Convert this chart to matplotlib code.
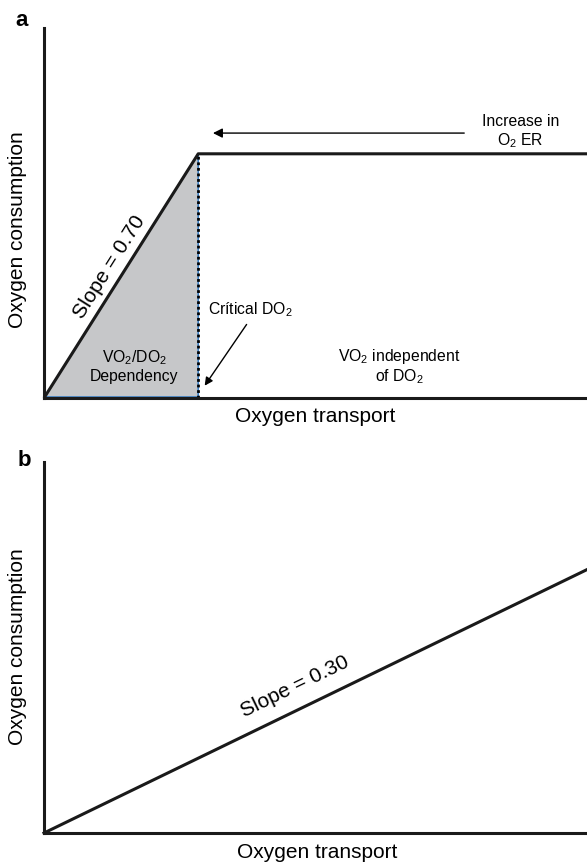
import numpy as np
import matplotlib
matplotlib.use("Agg")
import matplotlib.pyplot as plt

plt.rcParams['font.family'] = ['Liberation Sans', 'DejaVu Sans']
plt.rcParams['mathtext.fontset'] = 'custom'
plt.rcParams['mathtext.rm'] = 'Liberation Sans'
plt.rcParams['mathtext.default'] = 'regular'

# Datos (unidades arbitrarias 0-100)
transporte_a = [0, 28.4, 100]
consumo_a = [0, 66, 66]
do2_critico = 28.4
transporte_b = [0, 100]
consumo_b = [0, 71]

W, H = 587, 864
fig = plt.figure(figsize=(W / 100, H / 100), dpi=100)

def ejes(top_px, bottom_px):
    left_px = 44
    ax = fig.add_axes([left_px / W, (H - bottom_px) / H,
                       (W - left_px) / W, (bottom_px - top_px) / H])
    ax.set_xlim(0, 100)
    ax.set_ylim(0, 100)
    for s in ['top', 'right']:
        ax.spines[s].set_visible(False)
    for s in ['left', 'bottom']:
        ax.spines[s].set_linewidth(2.2)
        ax.spines[s].set_color('#1a1a1a')
    ax.set_xticks([])
    ax.set_yticks([])
    ax.patch.set_alpha(0)
    return ax

def angulo(ax, x0, y0, x1, y1):
    p0 = ax.transData.transform((x0, y0))
    p1 = ax.transData.transform((x1, y1))
    return np.degrees(np.arctan2(p1[1] - p0[1], p1[0] - p0[0]))

# ---------- Panel a ----------
ax1 = ejes(28, 398)
ax1.fill_between([0, do2_critico], [0, consumo_a[1]], 0, color='#c6c7c9', lw=0)
ax1.plot([0, do2_critico, do2_critico], [0, consumo_a[1], 0], color='#3b7fc4', lw=1.2, clip_on=False)
ax1.plot([0, do2_critico], [0.4, 0.4], color='#3b7fc4', lw=1.2, clip_on=False)
ax1.plot([do2_critico, do2_critico], [0, consumo_a[1]], color='black', lw=2, ls=(0, (1, 1)), clip_on=False)
ax1.plot(transporte_a, consumo_a, color='#1a1a1a', lw=2.2, clip_on=False, solid_capstyle='butt')

ang_a = angulo(ax1, 0, 0, transporte_a[1], consumo_a[1])
ax1.text(12.0, 35.4, 'Slope = 0.70', rotation=ang_a, ha='center', va='center',
         fontsize=15, rotation_mode='anchor')
ax1.text(16.6, 8.6, 'VO$_2$/DO$_2$\nDependency', ha='center', va='center',
         fontsize=11.3, linespacing=1.1)
ax1.text(30.2, 23.8, 'Crítical DO$_2$', ha='left', va='center', fontsize=11.3)
ax1.annotate('', xy=(29.3, 2.7), xytext=(37.6, 20.5),
             arrowprops=dict(arrowstyle='-|>', color='black', lw=1, mutation_scale=12))
ax1.text(65.4, 8.4, 'VO$_2$ independent\nof DO$_2$', ha='center', va='center',
         fontsize=11.3, linespacing=1.1)
ax1.text(87.7, 71.9, 'Increase in\nO$_2$ ER', ha='center', va='center',
         fontsize=11.3, linespacing=1.1)
ax1.annotate('', xy=(30.6, 71.6), xytext=(77.9, 71.6),
             arrowprops=dict(arrowstyle='-|>', color='black', lw=1, mutation_scale=14))

# ---------- Panel b ----------
ax2 = ejes(462, 833)
ax2.plot(transporte_b, consumo_b, color='#1a1a1a', lw=2.2, clip_on=False)
ang_b = angulo(ax2, 0, 0, transporte_b[1], consumo_b[1])
ax2.text(46.2, 39.4, 'Slope = 0.30', rotation=ang_b, ha='center', va='center',
         fontsize=15, rotation_mode='anchor')

# Etiquetas de ejes y letras de panel
def ftxt(x, y, s, **kw):
    fig.text(x / W, 1 - y / H, s, **kw)

ftxt(18, 230, 'Oxygen consumption', rotation=90, ha='center', va='center', fontsize=15)
ftxt(18, 647, 'Oxygen consumption', rotation=90, ha='center', va='center', fontsize=15)
ftxt(315, 417, 'Oxygen transport', ha='center', va='center', fontsize=15)
ftxt(317, 853, 'Oxygen transport', ha='center', va='center', fontsize=15)
ftxt(22, 20, 'a', ha='center', va='center', fontsize=16, fontweight='bold')
ftxt(24, 461, 'b', ha='center', va='center', fontsize=16, fontweight='bold')

fig.savefig('out.png', dpi=100, facecolor='white')
